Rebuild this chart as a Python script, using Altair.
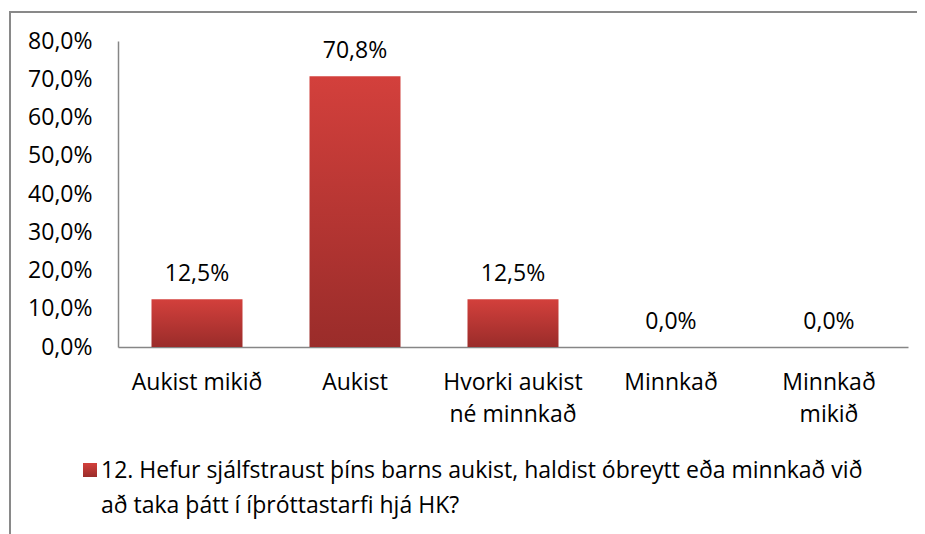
import altair as alt
import pandas as pd

categories = ["Aukist mikið", "Aukist", "Hvorki aukist|né minnkað", "Minnkað", "Minnkað|mikið"]
values = [12.5, 70.8, 12.5, 0.0, 0.0]
y_ticks = [0, 10, 20, 30, 40, 50, 60, 70, 80]
series_lines = [
    "12. Hefur sjálfstraust þíns barns aukist, haldist óbreytt eða minnkað við",
    "að taka þátt í íþróttastarfi hjá HK?",
]
series_name = "|".join(series_lines)

df = pd.DataFrame({"cat": categories, "val": values})
legend_df = pd.DataFrame({"series": [series_name]})

FONT = "Open Sans"
FS = 23

x_enc = alt.X(
    "cat:N",
    sort=categories,
    scale=alt.Scale(paddingInner=0.424, paddingOuter=0.212),
    axis=alt.Axis(
        title=None,
        labelExpr="split(datum.label, '|')",
        labelAngle=0,
        labelFont=FONT,
        labelFontSize=FS,
        labelColor="#000000",
        labelLineHeight=32,
        labelPadding=24,
        ticks=False,
        tickSize=0,
        domainColor="#868686",
        domainWidth=1.5,
        grid=False,
        labelLimit=300,
    ),
)
y_enc = alt.Y(
    "val:Q",
    scale=alt.Scale(domain=[0, 80], nice=False),
    axis=alt.Axis(
        title=None,
        values=y_ticks,
        labelExpr="replace(format(datum.value, '.1f'), '.', ',') + '%'",
        labelFont=FONT,
        labelFontSize=FS,
        labelColor="#000000",
        labelPadding=26,
        ticks=False,
        tickSize=0,
        domainColor="#868686",
        domainWidth=1.5,
        grid=False,
    ),
)

grad = alt.Gradient(
    gradient="linear",
    stops=[
        alt.GradientStop(color="#d3403c", offset=0),
        alt.GradientStop(color="#9a2c2a", offset=1),
    ],
    x1=0, x2=0, y1=0, y2=1,
)

base = alt.Chart(df)

bars = base.mark_bar(color=grad).encode(x=x_enc, y=y_enc)

labels = base.mark_text(
    font=FONT, fontSize=FS, color="#000000", baseline="alphabetic", dy=-18
).transform_calculate(
    lbl="replace(format(datum.val, '.1f'), '.', ',') + '%'"
).encode(x=x_enc, y=y_enc, text="lbl:N")

legend_sym = alt.Chart(legend_df).mark_square(color=grad, size=196, opacity=1).encode(
    x=alt.value(-28), y=alt.value(429)
)
legend_txt = alt.Chart(legend_df).mark_text(
    font=FONT, fontSize=FS, color="#000000", align="left", baseline="top",
    lineBreak="|", lineHeight=35,
).encode(x=alt.value(-17), y=alt.value(419), text="series:N")

frame_left = base.mark_rule(color="#898989", strokeWidth=2).encode(
    x=alt.value(-108), y=alt.value(-29), y2=alt.value(500)
)
frame_top = base.mark_rule(color="#898989", strokeWidth=2).encode(
    x=alt.value(-109), x2=alt.value(820), y=alt.value(-29)
)

chart = (
    alt.layer(bars, labels, legend_sym, legend_txt, frame_left, frame_top)
    .properties(
        width=790,
        height=306,
        background="#ffffff",
        autosize=alt.AutoSizeParams(type="none"),
        padding={"left": 110, "top": 33, "right": 9, "bottom": 187},
    )
    .configure_view(stroke="transparent", strokeWidth=0)
)

chart.save("out.html", embed_options={"renderer": "svg", "actions": False})
